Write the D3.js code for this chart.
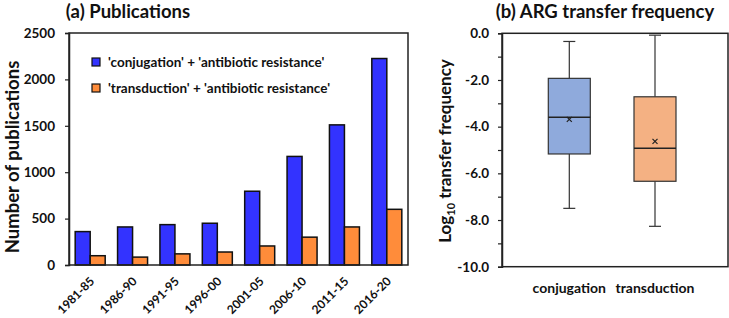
<!DOCTYPE html>
<html><head><meta charset="utf-8">
<script src="https://cdn.jsdelivr.net/npm/d3@7"></script>
<style>
body{margin:0;background:#fff;}
text{font-family:Lato,"Open Sans",sans-serif;font-weight:bold;fill:#111;}
</style></head>
<body><svg id="c" width="729" height="318"></svg>
<script>
const periods = ["1981-85","1986-90","1991-95","1996-00","2001-05","2006-10","2011-15","2016-20"];
const conjugationPubs = [360, 410, 435, 450, 795, 1170, 1510, 2225];
const transductionPubs = [100, 85, 120, 140, 205, 300, 410, 600];
const seriesNames = ["'conjugation' + 'antibiotic resistance'", "'transduction' + 'antibiotic resistance'"];
const pubTicks = [0, 500, 1000, 1500, 2000, 2500];

const boxCategories = ["conjugation", "transduction"];
const boxMin = [-7.5, -8.27];
const boxQ1 = [-5.17, -6.34];
const boxMedian = [-3.6, -4.93];
const boxQ3 = [-1.93, -2.72];
const boxMax = [-0.35, -0.08];
const boxMean = [-3.69, -4.63];
const freqTicks = [0, -2, -4, -6, -8, -10];

const svg = d3.select("#c");

// ---- Panel (a)
const aL = 69, aR = 408, aT = 33, aB = 265;
const x0 = d3.scaleBand().domain(periods).range([aL, aR]).paddingInner(0).paddingOuter(0);
const y = d3.scaleLinear().domain([0, 2500]).range([aB, aT]);
const barW = 15;
const cols = ["#3333ff", "#ff8c3a"];

const g = svg.append("g");
periods.forEach((p, i) => {
  const cx = x0(p) + x0.bandwidth() / 2;
  [conjugationPubs[i], transductionPubs[i]].forEach((v, k) => {
    g.append("rect")
      .attr("x", cx - barW + k * barW).attr("y", y(v))
      .attr("width", barW).attr("height", y(0) - y(v))
      .attr("fill", cols[k]).attr("stroke", "#111").attr("stroke-width", 1.5);
  });
});
// frame
g.append("rect").attr("x", aL).attr("y", aT).attr("width", aR - aL).attr("height", aB - aT)
  .attr("fill", "none").attr("stroke", "#222").attr("stroke-width", 1.5);

const yAx = g.append("g").attr("transform", `translate(${aL},0)`)
  .call(d3.axisLeft(y).tickValues(pubTicks).tickSize(4).tickPadding(10).tickFormat(d3.format("d")));
yAx.select(".domain").attr("stroke", "#222").attr("stroke-width", 1.5);
yAx.selectAll(".tick line").attr("stroke", "#222").attr("stroke-width", 1.2);
yAx.selectAll("text").style("font-size", "13.5px").attr("fill", "#111");

const xAx = g.append("g").attr("transform", `translate(0,${aB})`)
  .call(d3.axisBottom(x0).tickSize(0).tickPadding(0));
xAx.select(".domain").remove();
xAx.selectAll("text").style("font-size", "12px").style("text-anchor", "end")
  .attr("dy", null).attr("y", 0)
  .attr("transform", "translate(5,17) rotate(-45)");

g.append("text").attr("x", 128).attr("y", 18).attr("text-anchor", "middle")
  .style("font-size", "18.5px").text("(a) Publications");
g.append("text").attr("transform", "translate(19,157) rotate(-90)").attr("text-anchor", "middle")
  .style("font-size", "18.5px").text("Number of publications");

// legend
seriesNames.forEach((s, k) => {
  const ly = 62 + k * 26;
  g.append("rect").attr("x", 92).attr("y", ly - 4).attr("width", 8).attr("height", 8)
    .attr("fill", cols[k]).attr("stroke", "#111").attr("stroke-width", 1.2);
  g.append("text").attr("x", 108).attr("y", ly + 5).style("font-size", "13.5px").text(s);
});

// ---- Panel (b)
const bL = 502, bR = 728, bT = 33.3, bB = 266.7;
const yb = d3.scaleLinear().domain([-10, 0]).range([bB, bT]);
const xb = d3.scalePoint().domain(boxCategories).range([569.3, 655]);
const boxW = 42;
const boxCols = ["#8faadc", "#f4b183"];
const h = svg.append("g");
h.append("rect").attr("x", bL).attr("y", bT).attr("width", bR - bL).attr("height", bB - bT)
  .attr("fill", "none").attr("stroke", "#222").attr("stroke-width", 1.5);
const ybAx = h.append("g").attr("transform", `translate(${bL},0)`)
  .call(d3.axisLeft(yb).tickValues(d3.range(-10, 0.5, 1)).tickSize(4).tickPadding(9)
    .tickFormat(d => freqTicks.includes(d) ? d3.format(".1f")(d).replace("−", "-") : ""));
ybAx.select(".domain").attr("stroke", "#222").attr("stroke-width", 1.5);
ybAx.selectAll(".tick line").attr("stroke", "#222").attr("stroke-width", 1.2);
ybAx.selectAll("text").style("font-size", "13.5px").attr("fill", "#111");

boxCategories.forEach((c, i) => {
  const cx = xb(c);
  h.append("line").attr("x1", cx).attr("x2", cx).attr("y1", yb(boxMax[i])).attr("y2", yb(boxQ3[i]))
    .attr("stroke", "#333").attr("stroke-width", 1.2);
  h.append("line").attr("x1", cx).attr("x2", cx).attr("y1", yb(boxQ1[i])).attr("y2", yb(boxMin[i]))
    .attr("stroke", "#333").attr("stroke-width", 1.2);
  [boxMax[i], boxMin[i]].forEach(v => h.append("line").attr("x1", cx - 6).attr("x2", cx + 6)
    .attr("y1", yb(v)).attr("y2", yb(v)).attr("stroke", "#333").attr("stroke-width", 1.2));
  h.append("rect").attr("x", cx - boxW / 2).attr("y", yb(boxQ3[i])).attr("width", boxW)
    .attr("height", yb(boxQ1[i]) - yb(boxQ3[i])).attr("fill", boxCols[i])
    .attr("stroke", "#333").attr("stroke-width", 1.2);
  h.append("line").attr("x1", cx - boxW / 2).attr("x2", cx + boxW / 2)
    .attr("y1", yb(boxMedian[i])).attr("y2", yb(boxMedian[i])).attr("stroke", "#222").attr("stroke-width", 1.5);
  const my = yb(boxMean[i]);
  h.append("path").attr("d", `M${cx-2.5},${my-2.5}L${cx+2.5},${my+2.5}M${cx-2.5},${my+2.5}L${cx+2.5},${my-2.5}`)
    .attr("stroke", "#222").attr("stroke-width", 1.2);
  h.append("text").attr("x", cx).attr("y", 293).attr("text-anchor", "middle")
    .style("font-size", "14px").text(c);
});

h.append("text").attr("x", 605).attr("y", 18).attr("text-anchor", "middle")
  .style("font-size", "18.5px").text("(b) ARG transfer frequency");
const yl = h.append("text").attr("transform", "translate(451,151) rotate(-90)").attr("text-anchor", "middle")
  .style("font-size", "17px");
yl.append("tspan").text("Log");
yl.append("tspan").attr("dy", 4).style("font-size", "11px").text("10");
yl.append("tspan").attr("dy", -4).text(" transfer frequency");
</script></body></html>
